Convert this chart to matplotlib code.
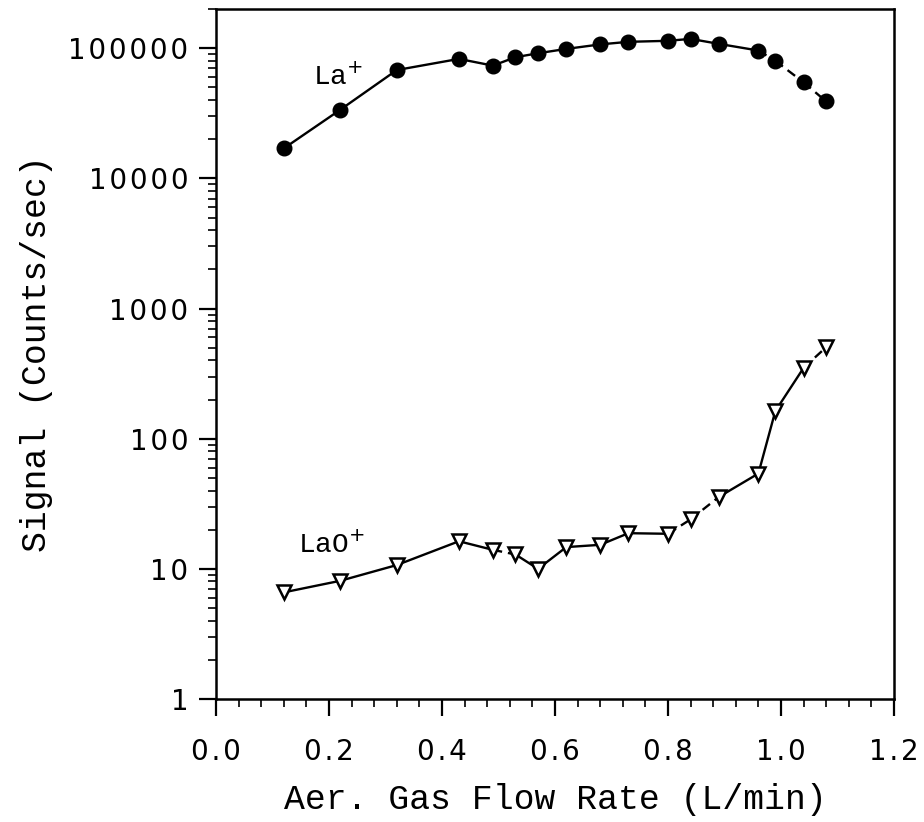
import matplotlib.pyplot as plt
from matplotlib.ticker import LogLocator, FixedLocator, NullFormatter

# flow rate (L/min)
flow = [0.12, 0.22, 0.32, 0.43, 0.49, 0.53, 0.57, 0.62, 0.68, 0.73,
        0.80, 0.84, 0.89, 0.96, 0.99, 1.04, 1.08]

# signal (counts/sec)
la = [17000, 33700, 68000, 82800, 73500, 85300, 91500, 98800, 107000,
      112000, 114000, 118000, 108000, 96000, 80000, 54700, 39000]
lao = [6.6, 8.1, 10.7, 16.3, 14.0, 12.9, 10.0, 14.7, 15.3, 18.8,
       18.6, 24.0, 35.7, 54.0, 163.0, 350.0, 505.0]

# which segments are drawn dashed
la_dashed = [13, 14, 15]
lao_dashed = [4, 10, 11, 15]

xticks = [0.0, 0.2, 0.4, 0.6, 0.8, 1.0, 1.2]
xticklabels = ['0.0', '0.2', '0.4', '0.6', '0.8', '1.0', '1.2']
yticks = [1, 10, 100, 1000, 10000, 100000]
yticklabels = ['1', '10', '100', '1000', '10000', '100000']

mono = 'Liberation Mono'


def spaced(s):
    # a little extra letter spacing like the old plotter font
    return '\u200a'.join(s)


fig = plt.figure(figsize=(9.24, 8.22), dpi=100)
ax = fig.add_axes([0.2338, 0.1496, 0.7337, 0.8394])


def draw_series(y, dashed, **mk):
    for i in range(len(flow) - 1):
        ls = (0, (4, 2.5)) if i in dashed else '-'
        ax.plot(flow[i:i + 2], y[i:i + 2], color='black', lw=1.7, ls=ls,
                solid_capstyle='butt', zorder=2)
    ax.plot(flow, y, ls='none', zorder=3, **mk)


draw_series(la, la_dashed, marker='o', ms=10.5, mfc='black', mec='black')
draw_series(lao, lao_dashed, marker='v', ms=10, mfc='white', mec='black', mew=1.8)

ax.set_yscale('log')
ax.set_xlim(0, 1.2)
ax.set_ylim(1, 2e5)

ax.xaxis.set_major_locator(FixedLocator(xticks))
ax.set_xticklabels([spaced(t) for t in xticklabels], fontsize=20, family='DejaVu Sans')
ax.xaxis.set_minor_locator(FixedLocator([i * 0.04 for i in range(31)]))
ax.yaxis.set_major_locator(FixedLocator(yticks))
ax.set_yticklabels([spaced(t) for t in yticklabels], fontsize=20, family='DejaVu Sans')
ax.yaxis.set_minor_locator(LogLocator(base=10, subs=range(2, 10)))
ax.yaxis.set_minor_formatter(NullFormatter())

ax.tick_params(which='major', direction='out', length=12, width=1.6)
ax.tick_params(which='minor', direction='out', length=6, width=1.2)
ax.tick_params(axis='y', which='major', pad=8)
ax.tick_params(axis='x', which='major', pad=16)
for s in ax.spines.values():
    s.set_linewidth(1.8)

ax.set_xlabel('Aer. Gas Flow Rate (L/min)', fontsize=25, family=mono)
ax.set_ylabel('Signal (Counts/sec)', fontsize=25, family=mono)
ax.xaxis.set_label_coords(0.5, -0.122)
ax.yaxis.set_label_coords(-0.240, 0.5)

ax.text(0.172, 52000, 'La$^{+}$', fontsize=20, family=mono)
ax.text(0.145, 13.2, 'LaO$^{+}$', fontsize=20, family=mono)

fig.savefig('out.png', dpi=100)
